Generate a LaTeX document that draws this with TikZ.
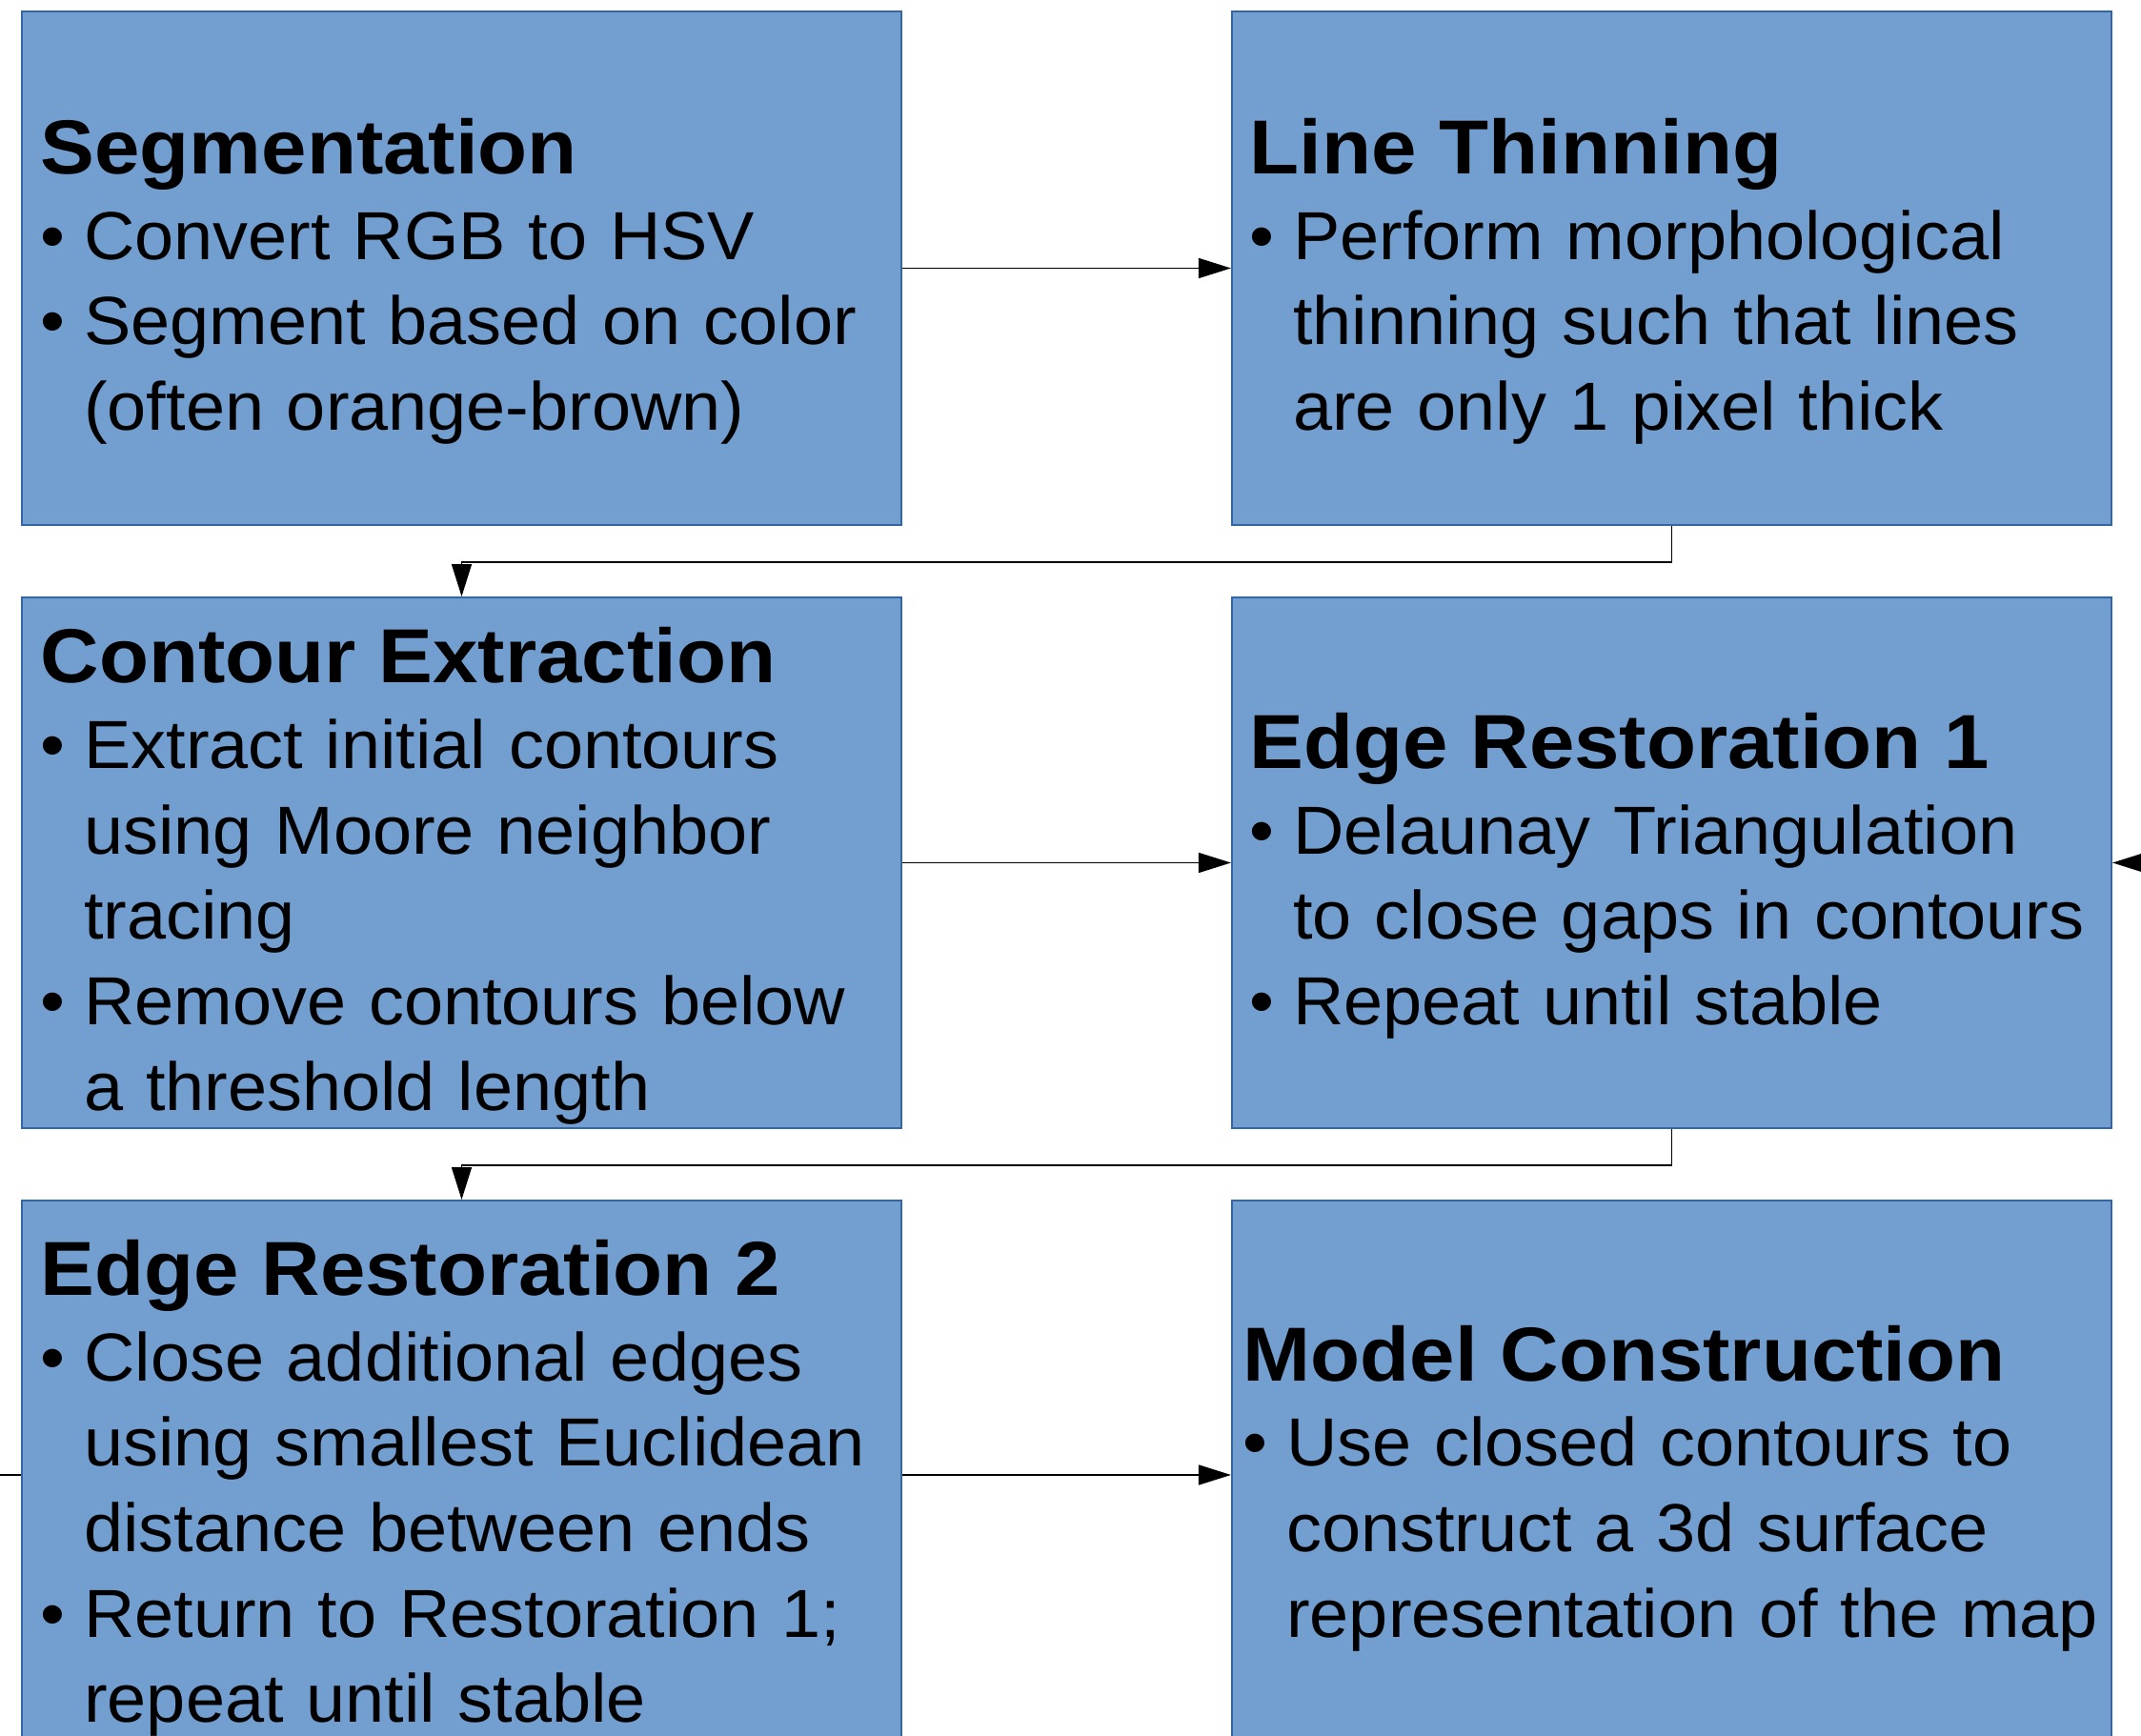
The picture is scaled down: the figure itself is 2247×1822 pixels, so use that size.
\documentclass[tikz,border=0pt]{standalone}
\usepackage{fontspec}
\setmainfont{Liberation Sans}[FakeStretch=1.035]
\newfontfamily\titlefam{Liberation Sans}[FakeStretch=1.06]
\usetikzlibrary{arrows.meta}

\definecolor{boxfill}{HTML}{729FCF}
\definecolor{boxline}{HTML}{3465A4}

% box text helpers
\newcommand{\boxtitle}[1]{{\titlefam\bfseries\fontsize{22.85}{25.5}\selectfont\rule{0pt}{0.86cm}#1}}
\newcommand{\bitem}[1]{\makebox[0.455cm][l]{\textbullet}\mbox{#1}}
\newcommand{\bmore}[1]{\hspace*{0.455cm}\mbox{#1}}

\tikzset{
  stage/.style={draw=boxline, fill=boxfill, line width=0.45pt, minimum width=9.23cm,
    inner sep=0pt, text width=8.83cm, align=left, font=\fontsize{20.3}{25.5}\selectfont},
  conn/.style={draw, line width=0.45pt, -{Triangle[length=0.34cm,width=0.21cm]}},
}

\begin{document}
\begin{tikzpicture}[x=0.01cm, y=-0.01cm]

\useasboundingbox (0,0) rectangle (2247,1822);
\clip (0,0) rectangle (2247,1822);

% Stages
\node[stage, minimum height=5.39cm] (seg) at (484.5,281.5) {\boxtitle{Segmentation}\\
  \bitem{Convert RGB to HSV}\\
  \bitem{Segment based on color}\\
  \bmore{(often orange-brown)}};
\node[stage, minimum height=5.39cm, text width=8.85cm] (thin) at (1754.5,281.5) {\boxtitle{Line Thinning}\\
  \bitem{Perform morphological}\\
  \bmore{thinning such that lines}\\
  \bmore{are only 1 pixel thick}};
\node[stage, minimum height=5.57cm] (contour) at (484.5,905.5) {\boxtitle{Contour Extraction}\\
  \bitem{Extract initial contours}\\
  \bmore{using Moore neighbor}\\
  \bmore{tracing}\\
  \bitem{Remove contours below}\\
  \bmore{a threshold length}};
\node[stage, minimum height=5.57cm, text width=8.85cm] (restA) at (1754.5,905.5) {\boxtitle{Edge Restoration 1}\\
  \bitem{Delaunay Triangulation}\\
  \bmore{to close gaps in contours}\\
  \bitem{Repeat until stable}};
\node[stage, minimum height=5.76cm] (restB) at (484.5,1548) {\boxtitle{Edge Restoration 2}\\
  \bitem{Close additional edges}\\
  \bmore{using smallest Euclidean}\\
  \bmore{distance between ends}\\
  \bitem{Return to Restoration 1;}\\
  \bmore{repeat until stable}};
\node[stage, minimum height=5.76cm, text width=8.99cm] (model) at (1754.5,1548) {\boxtitle{Model Construction}\\
  \bitem{Use closed contours to}\\
  \bmore{construct a 3d surface}\\
  \bmore{representation of the map}};

% Connectors
\draw[conn] (seg.east) -- (thin.west);
\draw[conn] (thin.south) -- ++(0,38) -| (contour.north);
\draw[conn] (contour.east) -- (restA.west);
\draw[conn] (restA.south) -- ++(0,38) -| (restB.north);
\draw[conn] (restB.east) -- (model.west);

% loop back (runs outside the frame)
\coordinate (loopsw) at (-60,1900);
\coordinate (loopse) at (2310,1900);
\draw[conn] (restB.west) -| (loopsw) -- (loopse) |- (restA.east);

\end{tikzpicture}
\end{document}
